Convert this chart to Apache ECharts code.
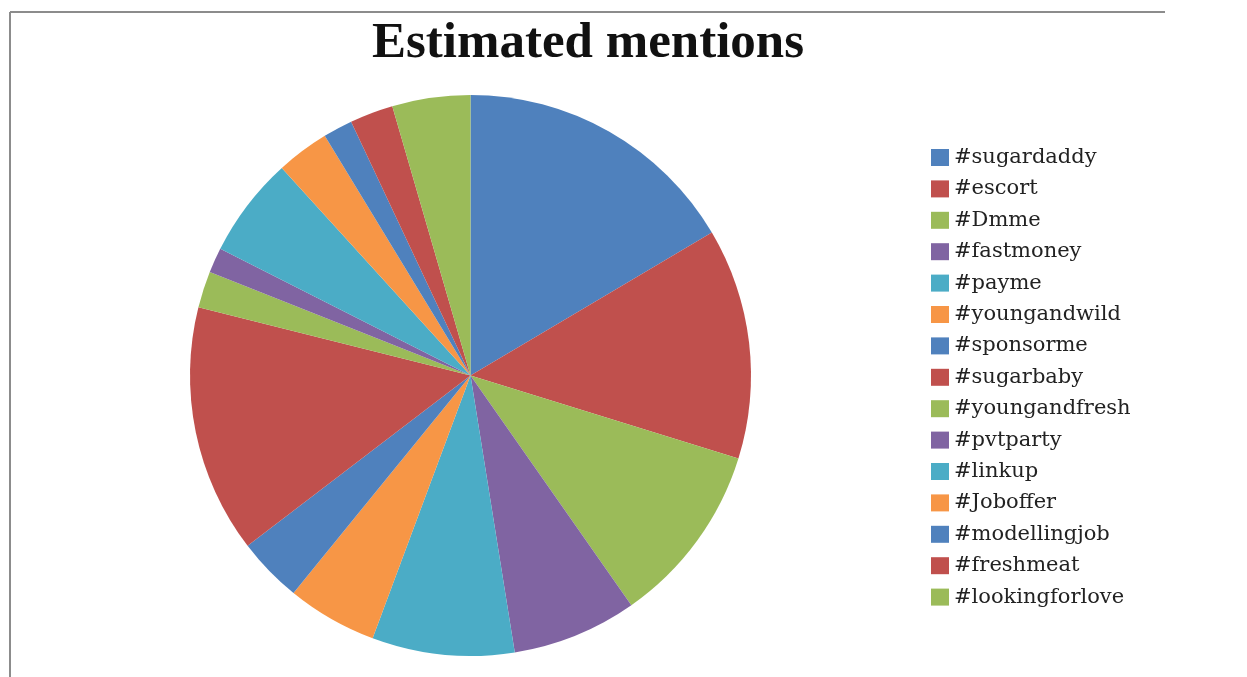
<!DOCTYPE html>
<html>
<head>
<meta charset="utf-8">
<script src="https://cdn.jsdelivr.net/npm/echarts@6/dist/echarts.min.js"></script>
<style>
  html, body { margin: 0; padding: 0; background: #ffffff; }
  #chart { width: 1247px; height: 677px; }
</style>
</head>
<body>
<div id="chart"></div>
<script>
const titleText = 'Estimated mentions';
const categories = ['#sugardaddy', '#escort', '#Dmme', '#fastmoney', '#payme', '#youngandwild', '#sponsorme', '#sugarbaby', '#youngandfresh', '#pvtparty', '#linkup', '#Joboffer', '#modellingjob', '#freshmeat', '#lookingforlove'];
const mentions = [16.5, 13.3, 10.5, 7.2, 8.2, 5.2, 3.75, 14.3, 2.1, 1.45, 5.8, 3.05, 1.7, 2.5, 4.5];
const palette = ['#4F81BD', '#C0504D', '#9BBB59', '#8064A2', '#4BACC6', '#F79646'];

const chart = echarts.init(document.getElementById('chart'), null, { renderer: 'canvas' });
chart.setOption({
  animation: false,
  color: palette,
  title: {
    text: titleText,
    left: 583, top: 13, textAlign: 'center',
    textStyle: { fontFamily: 'Liberation Serif', fontWeight: 'bold', fontSize: 51, color: '#111111' }
  },
  graphic: [
    { type: 'line', shape: { x1: 10, y1: 12, x2: 1165, y2: 12 }, style: { stroke: '#8c8c8c', lineWidth: 2 } },
    { type: 'line', shape: { x1: 10, y1: 12, x2: 10, y2: 677 }, style: { stroke: '#8c8c8c', lineWidth: 2 } }
  ],
  legend: {
    orient: 'vertical',
    left: 931, top: 147,
    padding: 0,
    itemWidth: 18, itemHeight: 17, itemGap: 10.4,
    icon: 'rect',
    textStyle: { fontFamily: 'DejaVu Serif', fontSize: 21, color: '#222222', lineHeight: 20, padding: [0,0,0,0] },
    data: categories
  },
  series: [{
    type: 'pie',
    center: [470.5, 375.5],
    radius: 280.5,
    startAngle: 90,
    clockwise: true,
    label: { show: false },
    labelLine: { show: false },
    itemStyle: { borderWidth: 0 },
    emphasis: { disabled: true },
    data: categories.map((c, i) => ({ name: c, value: mentions[i] }))
  }]
});
</script>
</body>
</html>
